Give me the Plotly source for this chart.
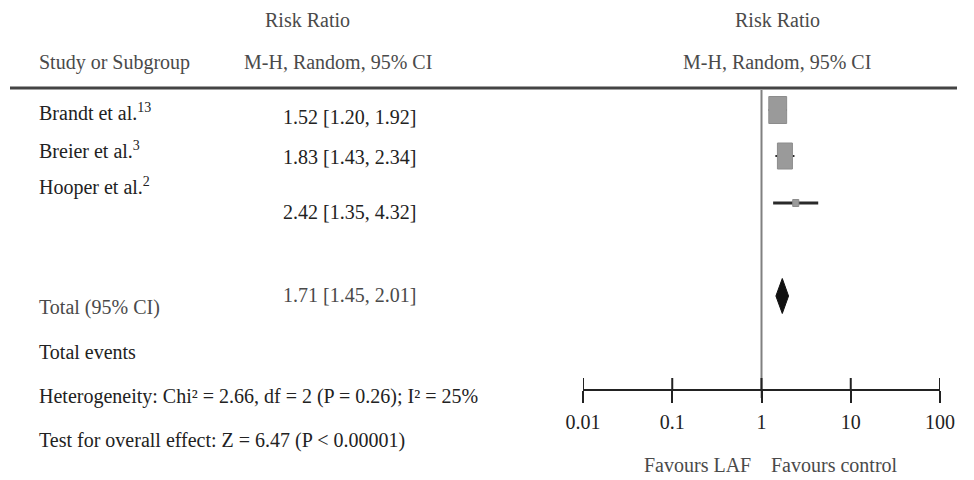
import plotly.graph_objects as go

# ---------------- data ----------------
studies = ["Brandt et al.<sup>13</sup>", "Breier et al.<sup>3</sup>", "Hooper et al.<sup>2</sup>"]
rr = [1.52, 1.83, 2.42]
ci_low = [1.20, 1.43, 1.35]
ci_high = [1.92, 2.34, 4.32]
total_label = "Total (95% CI)"
total_rr = 1.71
total_low = 1.45
total_high = 2.01
tick_vals = [0.01, 0.1, 1, 10, 100]
tick_text = ["0.01", "0.1", "1", "10", "100"]
footer_lines = [
    "Total events",
    "Heterogeneity: Chi² = 2.66, df = 2 (P = 0.26); I² = 25%",
    "Test for overall effect: Z = 6.47 (P < 0.00001)",
]

# ---------------- layout / style ----------------
W, H = 974, 480
FONT = "Liberation Serif"
FS = 20
TXT = "#222222"
GREY_TXT = "#4a4a4a"
row_y = [110, 156, 203]           # marker row centres (pixels)
name_y = [112, 150, 186]
ci_txt_y = [117, 157, 212]
box_halfw = [0.10, 0.084, 0.034]  # box half-width in decades
box_halfh = [13.5, 13, 3.5]
total_y = 296
diamond_halfh = 17.5
axis_y = 390
TICK = 12

def px(x):
    return x / W

fig = go.Figure()

# CI lines
for i in range(len(rr)):
    fig.add_trace(go.Scatter(
        x=[ci_low[i], ci_high[i]], y=[row_y[i], row_y[i]], mode="lines",
        line=dict(color="#2a2a2a", width=3 if i == 2 else 2),
        hoverinfo="skip", showlegend=False))

# boxes (computed from estimate on log scale)
for i in range(len(rr)):
    f = 10 ** box_halfw[i]
    x0, x1 = rr[i] / f, rr[i] * f
    y0, y1 = row_y[i] - box_halfh[i], row_y[i] + box_halfh[i]
    fig.add_trace(go.Scatter(
        x=[x0, x1, x1, x0, x0], y=[y0, y0, y1, y1, y0], mode="lines",
        fill="toself", fillcolor="#9a9a9a", line=dict(color="#8c8c8c", width=1),
        hoverinfo="skip", showlegend=False))

# diamond
fig.add_trace(go.Scatter(
    x=[total_low, total_rr, total_high, total_rr, total_low],
    y=[total_y, total_y - diamond_halfh, total_y, total_y + diamond_halfh, total_y],
    mode="lines", fill="toself", fillcolor="#111111",
    line=dict(color="#111111", width=1), hoverinfo="skip", showlegend=False))

shapes = []
# top rule
shapes.append(dict(type="line", xref="paper", yref="y", x0=px(10), x1=px(957),
                   y0=88, y1=88, line=dict(color="#444444", width=3)))
# line of no effect
shapes.append(dict(type="line", xref="x", yref="y", x0=1, x1=1, y0=90, y1=398,
                   line=dict(color="#808080", width=2), layer="below"))
# upward halves of ticks
for v in tick_vals:
    shapes.append(dict(type="line", xref="x", yref="y", x0=v, x1=v,
                       y0=axis_y - TICK, y1=axis_y, line=dict(color="#222222", width=2)))

ann = []
def text(x, y, s, anchor="left", color=TXT, size=FS):
    ann.append(dict(x=px(x), y=y, xref="paper", yref="y", text=s, showarrow=False,
                    xanchor=anchor, yanchor="middle",
                    font=dict(family=FONT, size=size, color=color)))

# headers
text(307, 20, "Risk Ratio", "center", GREY_TXT)
text(37, 62, "Study or Subgroup", "left", GREY_TXT)
text(338, 62, "M-H, Random, 95% CI", "center", GREY_TXT)
text(777, 20, "Risk Ratio", "center", GREY_TXT)
text(777, 62, "M-H, Random, 95% CI", "center", GREY_TXT)

for i in range(len(studies)):
    text(37, name_y[i], studies[i])
    text(349, ci_txt_y[i], f"{rr[i]:.2f} [{ci_low[i]:.2f}, {ci_high[i]:.2f}]", "center")

text(37, 307, total_label, "left", GREY_TXT)
text(349, 295, f"{total_rr:.2f} [{total_low:.2f}, {total_high:.2f}]", "center", GREY_TXT)
for s, y in zip(footer_lines, [352, 396, 440]):
    text(37, y, s)

text(697, 465, "Favours LAF", "center", GREY_TXT)
text(834, 465, "Favours control", "center", GREY_TXT)

fig.update_layout(
    width=W, height=H, margin=dict(l=0, r=0, t=0, b=0, pad=0, autoexpand=False),
    autosize=False,
    paper_bgcolor="white", plot_bgcolor="white",
    shapes=shapes, annotations=ann, showlegend=False,
    xaxis=dict(type="log", range=[-2, 2], domain=[583 / W, 940 / W],
               anchor="free", position=1 - axis_y / H, automargin=False,
               showline=True, linecolor="#222222", linewidth=2,
               ticks="outside", ticklen=TICK, tickwidth=2, tickcolor="#222222",
               tickvals=tick_vals, ticktext=tick_text,
               tickfont=dict(family=FONT, size=FS, color=TXT),
               ticklabelstandoff=2,
               showgrid=False, zeroline=False, fixedrange=True),
    yaxis=dict(range=[H, 0], domain=[0, 1], visible=False, showgrid=False,
               automargin=False, zeroline=False, fixedrange=True),
)

fig.write_html(
    "out.html",
    config={"responsive": False, "displayModeBar": False},
    post_script="document.body.style.margin='0';document.body.style.overflow='hidden';",
)
